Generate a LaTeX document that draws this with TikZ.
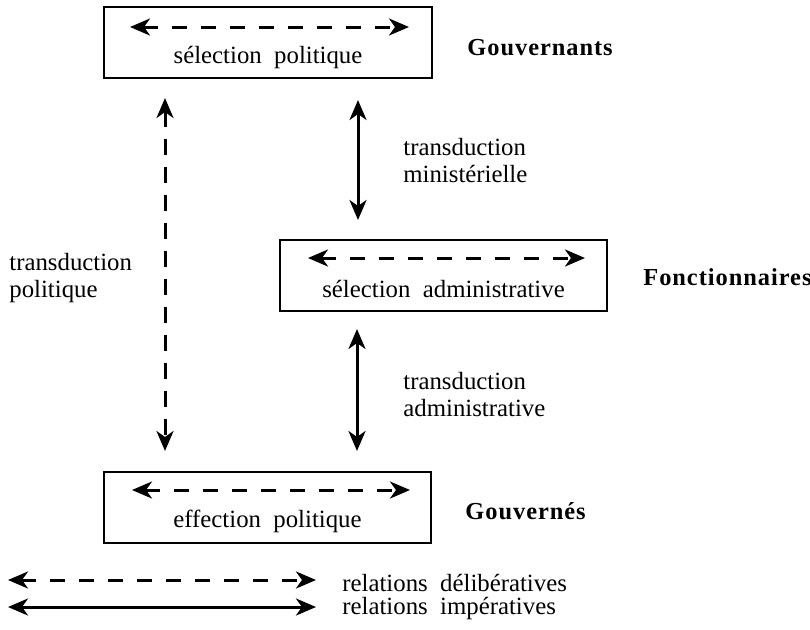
\documentclass[tikz,border=0pt]{standalone}
\usepackage{fontspec}
\setmainfont{Liberation Serif}
\usetikzlibrary{arrows.meta}
\begin{document}
\begin{tikzpicture}[x=0.5pt,y=-0.5pt,
  every node/.style={font=\fontsize{12.4}{13.5}\selectfont, inner sep=0pt},
  boxst/.style={draw, line width=1.2pt, minimum width=164pt, minimum height=35.5pt, inner sep=0pt},
  tip/.tip={Stealth[length=10pt,width=8.5pt,inset=3pt]},
  delib/.style={line width=1.5pt, dash pattern=on 7.5pt off 7pt, tip-tip},
  imper/.style={line width=1.5pt, tip-tip},
  vdelib/.style={line width=1.5pt, dash pattern=on 8pt off 6pt, tip-tip},
  lab/.style={align=left, anchor=west},
  bold/.style={font=\fontsize{12.2}{13.5}\selectfont\bfseries\addfontfeatures{LetterSpace=4}, anchor=west}]
\useasboundingbox (0,0) rectangle (810,629);
% boxes
\node[boxst] (top) at (268,42.5) {};
\node[boxst, minimum width=163.5pt] (mid) at (443.5,275.5) {};
\node[boxst, minimum width=163.5pt] (bot) at (267.5,507.5) {};
% inner arrows
\coordinate (t1) at (130,27); \coordinate (t2) at (409,27);
\draw[delib] (t1) -- (t2);
\node (ttxt) at (268,58) {sélection\ \ politique};
\coordinate (m1) at (308,258); \coordinate (m2) at (585,258);
\draw[delib] (m1) -- (m2);
\node (mtxt) at (443.5,289) {sélection\ \ administrative};
\coordinate (b1) at (132,490); \coordinate (b2) at (410,490);
\draw[delib] (b1) -- (b2);
\node (btxt) at (267.5,521) {effection\ \ politique};
% right labels
\node[bold] (gov) at (467,48) {Gouvernants};
\node[bold] (fonc) at (643,277) {Fonctionnaires};
\node[bold] (govs) at (465,511) {Gouvernés};
% vertical connectors
\coordinate (vp1) at (165,98); \coordinate (vp2) at (165,451);
\draw[vdelib] (vp1) -- (vp2);
\coordinate (vm1) at (358,100); \coordinate (vm2) at (358,220);
\draw[imper] (vm1) -- (vm2);
\coordinate (va1) at (357,329); \coordinate (va2) at (357,451);
\draw[imper] (va1) -- (va2);
% side labels
\node[lab] (tpol) at (9,278) {transduction\\politique};
\node[lab] (tmin) at (403,161) {transduction\\ministérielle};
\node[lab] (tadm) at (403,395) {transduction\\administrative};
% legend
\coordinate (l1) at (8,580); \coordinate (l2) at (316,580);
\draw[delib] (l1) -- (l2);
\coordinate (l3) at (8,607); \coordinate (l4) at (316,607);
\draw[imper] (l3) -- (l4);
\node[lab] (ld) at (342,583) {relations\ \ délibératives};
\node[lab] (li) at (342,609) {relations\ \ impératives};
\end{tikzpicture}
\end{document}
